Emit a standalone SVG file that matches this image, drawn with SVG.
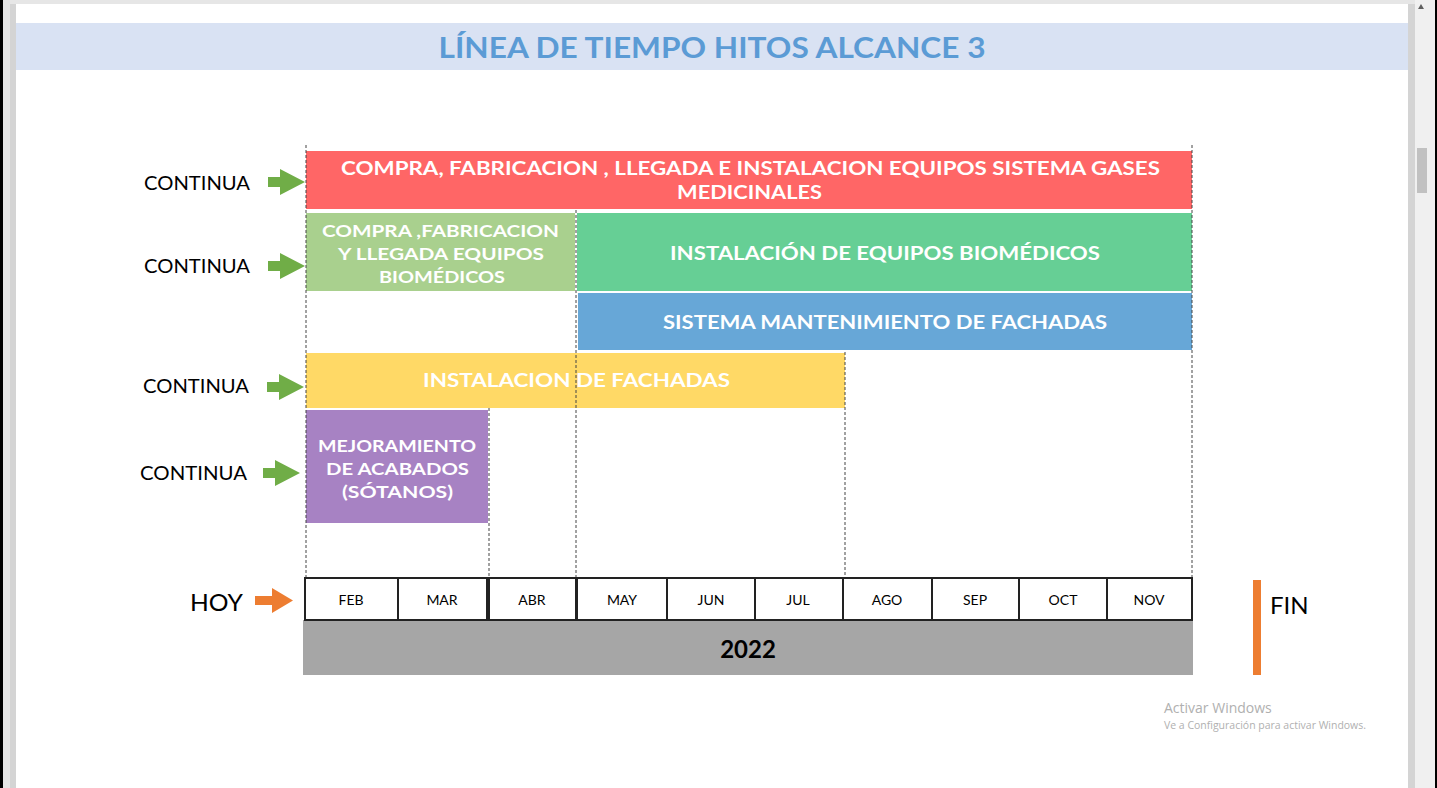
<svg xmlns="http://www.w3.org/2000/svg" width="1437" height="788" viewBox="0 0 1437 788">
<defs>
<style>
.bt{font-family:Lato,"Open Sans","Liberation Sans",sans-serif;font-weight:bold;fill:#fff;text-anchor:middle}
.lbl{font-family:Lato,"Open Sans","Liberation Sans",sans-serif;fill:#000}
.mo{font-family:Lato,"Open Sans","Liberation Sans",sans-serif;font-size:14px;fill:#000;text-anchor:middle}
.mb{fill:#fff;stroke:#222;stroke-width:2}
.dash{stroke:#444;stroke-width:1;stroke-dasharray:3,2;fill:none}
.ga{fill:#70ad47}
</style>
</defs>
<!-- window frame -->
<rect x="0" y="0" width="1437" height="788" fill="#e6e6e6"/>
<rect x="0" y="0" width="3" height="788" fill="#000"/>
<rect x="1435" y="0" width="2" height="788" fill="#000"/>
<rect x="10" y="4" width="1405" height="784" fill="#d4d4d4"/>
<rect x="16" y="4" width="1392" height="784" fill="#fff"/>
<rect x="1415" y="0" width="20" height="788" fill="#f0f0f0"/>
<rect x="1417" y="148" width="10" height="45" fill="#c1c1c1"/>
<path d="M1418,9 L1421,4 L1424,9 Z" fill="#606060"/>
<!-- title -->
<rect x="16" y="23" width="1392" height="47" fill="#d9e2f3"/>
<text x="712" y="58" font-family="Lato,'Open Sans','Liberation Sans',sans-serif" font-weight="bold" font-size="28" fill="#5b9bd5" text-anchor="middle" textLength="547" lengthAdjust="spacingAndGlyphs">LÍNEA DE TIEMPO HITOS ALCANCE 3</text>

<!-- bars -->
<g id="bar-gases">
<rect x="306" y="151" width="886" height="58" fill="#ff6666"/>
<text class="bt" x="750.5" y="175" font-size="19" textLength="819" lengthAdjust="spacingAndGlyphs">COMPRA, FABRICACION , LLEGADA E INSTALACION EQUIPOS SISTEMA GASES</text>
<text class="bt" x="749.5" y="199" font-size="19" textLength="145" lengthAdjust="spacingAndGlyphs">MEDICINALES</text>
</g>
<g id="bar-compra-biomedicos">
<rect x="306" y="213" width="269" height="78" fill="#a9d08e"/>
<text class="bt" x="440.5" y="237" font-size="17" textLength="237" lengthAdjust="spacingAndGlyphs">COMPRA ,FABRICACION</text>
<text class="bt" x="441" y="260" font-size="17" textLength="206" lengthAdjust="spacingAndGlyphs">Y LLEGADA EQUIPOS</text>
<text class="bt" x="442" y="283" font-size="17" textLength="126" lengthAdjust="spacingAndGlyphs">BIOMÉDICOS</text>
</g>
<g id="bar-instalacion-biomedicos">
<rect x="577" y="213" width="615" height="78" fill="#66cf95"/>
<text class="bt" x="885" y="260" font-size="19" textLength="430" lengthAdjust="spacingAndGlyphs">INSTALACIÓN DE EQUIPOS BIOMÉDICOS</text>
</g>
<g id="bar-mantenimiento">
<rect x="578" y="293" width="614" height="57" fill="#67a7d7"/>
<text class="bt" x="885" y="329" font-size="19" textLength="444" lengthAdjust="spacingAndGlyphs">SISTEMA MANTENIMIENTO DE FACHADAS</text>
</g>
<g id="bar-fachadas">
<rect x="306" y="353" width="539" height="55" fill="#ffd966"/>
<text class="bt" x="576.5" y="387" font-size="19" textLength="307" lengthAdjust="spacingAndGlyphs">INSTALACION DE FACHADAS</text>
</g>
<g id="bar-acabados">
<rect x="306" y="410" width="182" height="113" fill="#a782c3"/>
<text class="bt" x="397" y="452" font-size="17" textLength="158" lengthAdjust="spacingAndGlyphs">MEJORAMIENTO</text>
<text class="bt" x="397.5" y="475" font-size="17" textLength="143" lengthAdjust="spacingAndGlyphs">DE ACABADOS</text>
<text class="bt" x="397.5" y="498" font-size="17" textLength="111" lengthAdjust="spacingAndGlyphs">(SÓTANOS)</text>
</g>

<!-- dashed guides -->
<g id="connectors">
<line class="dash" x1="306" y1="145" x2="306" y2="578"/>
<line class="dash" x1="576" y1="210" x2="576" y2="578"/>
<line class="dash" x1="489" y1="408" x2="489" y2="578"/>
<line class="dash" x1="845" y1="352" x2="845" y2="578"/>
<line class="dash" x1="1192" y1="145" x2="1192" y2="578"/>
<path class="ga" d="M268,177 H280 V169 L305,182 L280,195 V187 H268 Z"/>
<path class="ga" d="M268,261 H280 V253 L305,266 L280,279 V271 H268 Z"/>
<path class="ga" d="M267,382 H279 V374 L304,387 L279,400 V392 H267 Z"/>
<path class="ga" d="M263,468 H275 V460 L300,473 L275,486 V478 H263 Z"/>
<path d="M255,596 H272 V588 L293,600.5 L272,613 V605 H255 Z" fill="#ed7d31"/>
</g>

<!-- labels -->
<g id="labels">
<text class="lbl" x="144" y="190" font-size="19" textLength="106" lengthAdjust="spacingAndGlyphs">CONTINUA</text>
<text class="lbl" x="144" y="273" font-size="19" textLength="106" lengthAdjust="spacingAndGlyphs">CONTINUA</text>
<text class="lbl" x="143" y="393" font-size="19" textLength="106" lengthAdjust="spacingAndGlyphs">CONTINUA</text>
<text class="lbl" x="140" y="480" font-size="19" textLength="107" lengthAdjust="spacingAndGlyphs">CONTINUA</text>
<text class="lbl" x="190" y="611" font-size="24" textLength="53" lengthAdjust="spacingAndGlyphs">HOY</text>
<text class="lbl" x="1270" y="614" font-size="24">FIN</text>
</g>

<!-- timeline -->
<g id="timeline">
<rect x="303" y="620" width="890" height="55" fill="#a6a6a6"/>
<text x="748" y="658" font-family="Lato,'Liberation Sans',sans-serif" font-weight="bold" font-size="24" fill="#000" text-anchor="middle">2022</text>
<rect class="mb" x="305" y="578" width="93" height="42"/>
<rect class="mb" x="398" y="578" width="89" height="42"/>
<rect class="mb" x="489" y="578" width="87" height="42"/>
<rect class="mb" x="577" y="578" width="90" height="42"/>
<rect class="mb" x="667" y="578" width="88" height="42"/>
<rect class="mb" x="755" y="578" width="88" height="42"/>
<rect class="mb" x="843" y="578" width="89" height="42"/>
<rect class="mb" x="932" y="578" width="87" height="42"/>
<rect class="mb" x="1019" y="578" width="88" height="42"/>
<rect class="mb" x="1107" y="578" width="85" height="42"/>
<text class="mo" x="351" y="605">FEB</text>
<text class="mo" x="442" y="605">MAR</text>
<text class="mo" x="532" y="605">ABR</text>
<text class="mo" x="622" y="605">MAY</text>
<text class="mo" x="711" y="605">JUN</text>
<text class="mo" x="798" y="605">JUL</text>
<text class="mo" x="887" y="605">AGO</text>
<text class="mo" x="975" y="605">SEP</text>
<text class="mo" x="1063" y="605">OCT</text>
<text class="mo" x="1149" y="605">NOV</text>
</g>
<rect id="fin-bar" x="1253" y="580" width="8" height="95" fill="#ed7d31"/>

<!-- watermark -->
<text x="1164" y="713" font-family="'Open Sans','Liberation Sans',sans-serif" font-size="14" fill="#b0b0b0">Activar Windows</text>
<text x="1164" y="729" font-family="'Open Sans','Liberation Sans',sans-serif" font-size="10" fill="#b0b0b0" textLength="202" lengthAdjust="spacingAndGlyphs">Ve a Configuración para activar Windows.</text>
</svg>
